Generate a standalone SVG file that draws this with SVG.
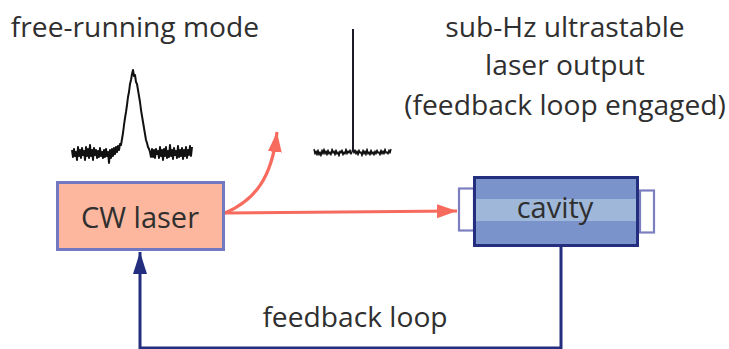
<svg xmlns="http://www.w3.org/2000/svg" width="729" height="349" viewBox="0 0 729 349">
<style>
text{font-family:"Open Sans","Noto Sans","Liberation Sans",sans-serif;fill:#2f2f2f;font-size:28.2px;text-anchor:middle}
.spec{fill:none;stroke:#111;stroke-linejoin:round}
.mirror{fill:#fff;stroke:#7b7fc0;stroke-width:2.2}
.red{fill:none;stroke:#f76b5e;stroke-width:3.2}
.navy{fill:none;stroke:#232f7e;stroke-width:3}
</style>
<defs>
<marker id="ar" markerUnits="userSpaceOnUse" markerWidth="24" markerHeight="18" refX="20" refY="8" orient="auto"><path d="M0 1L20 8L0 15Z" fill="#f76b5e"/></marker>
<marker id="an" markerUnits="userSpaceOnUse" markerWidth="24" markerHeight="18" refX="22" refY="7" orient="auto"><path d="M0 0L22 7L0 14Z" fill="#232f7e"/></marker>
</defs>
<g id="connectors">
<path class="red" d="M225 213C255 200 272 178 277 132" marker-end="url(#ar)"/>
<path class="red" d="M225 213L457 211" marker-end="url(#ar)"/>
<path class="navy" d="M561 246V348H140V252" marker-end="url(#an)"/>
</g>
<g id="free-running-spectrum">
<path class="spec" stroke-width="2" d="M72 150L73 157L74 149L75 156L76 152L77 160L78 147L79 156L80 150L81 158L82 148L83 155L84 151L85 160L86 147L87 156L88 149L89 158L90 145L91 156L92 150L93 160L94 148L95 155L96 150L97 158L98 151L99 157L100 148L101 156L102 152L103 158L104 150L105 157L106 149L107 156L108 152L109 163L110 150L111 158L112 149L113 156L114 148L115 154L116 147L117 152L118 146L119 150L120 144L121 145L122 139L123 133L124 125L125 118L126 112L127 105L128 97L129 92L130 84L131 80L132 74L133 70L134 76L135 75L136 82L137 84L138 90L139 96L140 102L141 110L142 116L143 122L144 128L145 134L146 140L147 143L148 147L149 149L150 152L151 157L152 149L153 157L154 150L155 158L156 149L157 154L158 151L159 158L160 147L161 156L162 150L163 160L164 149L165 156L166 147L167 158L168 151L169 157L170 145L171 156L172 150L173 159L174 148L175 155L176 151L177 158L178 146L179 157L180 150L181 156L182 148L183 159L184 150L185 156L186 147L187 158L188 150L189 155L190 146L191 156L192 147"/>
</g>
<g id="locked-spectrum">
<path class="spec" stroke-width="1.4" d="M314 149L315 154L316 151L317 155L318 150L319 155L320 152L321 156L322 150L323 154L324 149L325 154L326 151L327 155L328 150L329 154L330 152L331 155L332 149L333 153L334 151L335 155L336 150L337 154L338 152L339 156L340 151L341 153L342 150L343 155L344 152L345 154L346 149L347 154L348 151L349 153L350 150L351 154L352 152L353 148L354 153L355 150L356 154L357 151L358 155L359 150L360 153L361 152L362 156L363 150L364 154L365 151L366 155L367 149L368 154L369 152L370 155L371 150L372 154L373 152L374 155L375 151L376 154L377 150L378 153L379 152L380 155L381 150L382 154L383 151L384 154L385 149L386 153L387 152L388 154L389 150L390 153L391 149"/>
<path d="M353 29V152" fill="none" stroke="#1b1b25" stroke-width="2"/>
</g>
<g id="cw-laser">
<rect x="57.500" y="182.500" width="166" height="67" fill="#fcb79e" stroke="#7379c0" stroke-width="3"/>
<text x="140" y="228" style="font-size:29px">CW laser</text>
</g>
<g id="cavity">
<rect class="mirror" x="459" y="188.500" width="15" height="42"/>
<rect class="mirror" x="640" y="190.500" width="14" height="42"/>
<rect x="474.500" y="177.500" width="163" height="68" fill="#7b93cb" stroke="#232f7e" stroke-width="3"/>
<rect x="476" y="199" width="160" height="22" fill="#9fb8da"/>
<text x="555" y="218" style="font-size:29px">cavity</text>
</g>
<g id="labels">
<text x="135" y="37">free-running mode</text>
<text x="565" y="37">sub-Hz ultrastable</text>
<text x="565" y="75">laser output</text>
<text x="565" y="115">(feedback loop engaged)</text>
<text x="355" y="327">feedback loop</text>
</g>
</svg>
